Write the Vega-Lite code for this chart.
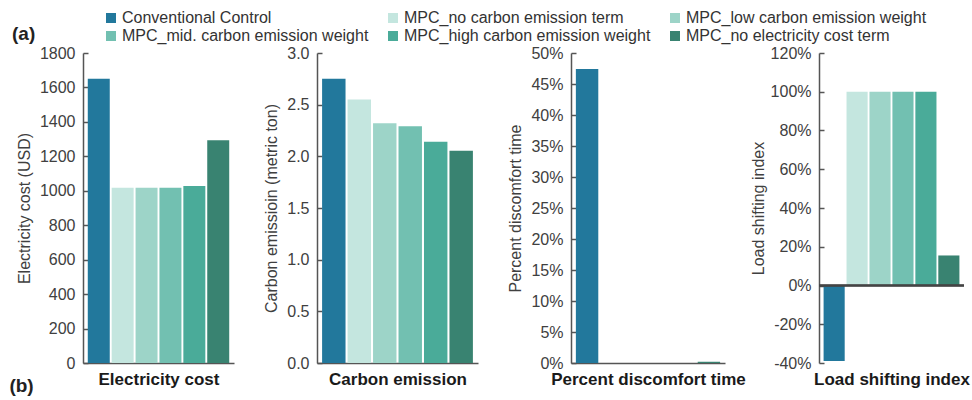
{
  "$schema": "https://vega.github.io/schema/vega-lite/v6.json",
  "padding": {"left": 9, "top": 10, "right": 2, "bottom": 4},
  "background": "white",
  "spacing": 4,
  "config": {
    "font": "Liberation Sans",
    "locale": {"number": {"decimal": ".", "thousands": ",", "grouping": [3], "currency": ["$", ""], "minus": "-"}},
    "view": {"stroke": null},
    "axis": {
      "labelFont": "Liberation Sans", "titleFont": "Liberation Sans",
      "labelFontSize": 16, "titleFontSize": 16,
      "labelColor": "#404040", "titleColor": "#404040", "titleFontWeight": "normal",
      "domainColor": "#555555", "tickColor": "#555555", "domainWidth": 1.5, "tickWidth": 1.5,
      "tickSize": -5, "labelPadding": 13, "titlePadding": 7, "grid": false, "labelOverlap": false, "zindex": 1
    },
    "axisX": {"labels": false, "ticks": false, "titleFontWeight": "bold", "titleFontSize": 17, "titleColor": "#1a1a1a", "titlePadding": 8},
    "legend": {
      "orient": "none", "legendX": -71, "legendY": -43, "direction": "horizontal", "columns": 3,
      "symbolType": "square", "symbolSize": 100, "symbolStrokeWidth": 0,
      "labelFont": "Liberation Sans", "labelFontSize": 16, "labelColor": "#333333", "labelOffset": 3, "labelLimit": 400,
      "columnPadding": 16, "rowPadding": 2,
      "titleOrient": "left", "titleFont": "Liberation Sans", "titleFontSize": 19, "titleFontWeight": "bold", "titleColor": "#222222",
      "titlePadding": 67, "titleAnchor": "end", "titleBaseline": "bottom"
    }
  },
  "datasets": {
    "d": [
      {"metric": "Electricity cost", "scenario": "Conventional Control", "value": 1650},
      {"metric": "Electricity cost", "scenario": "MPC_no carbon emission term", "value": 1017},
      {"metric": "Electricity cost", "scenario": "MPC_low carbon emission weight", "value": 1017},
      {"metric": "Electricity cost", "scenario": "MPC_mid. carbon emission weight", "value": 1017},
      {"metric": "Electricity cost", "scenario": "MPC_high carbon emission weight", "value": 1028},
      {"metric": "Electricity cost", "scenario": "MPC_no electricity cost term", "value": 1293},
      {"metric": "Carbon emission", "scenario": "Conventional Control", "value": 2.75},
      {"metric": "Carbon emission", "scenario": "MPC_no carbon emission term", "value": 2.55},
      {"metric": "Carbon emission", "scenario": "MPC_low carbon emission weight", "value": 2.32},
      {"metric": "Carbon emission", "scenario": "MPC_mid. carbon emission weight", "value": 2.29},
      {"metric": "Carbon emission", "scenario": "MPC_high carbon emission weight", "value": 2.14},
      {"metric": "Carbon emission", "scenario": "MPC_no electricity cost term", "value": 2.055},
      {"metric": "Percent discomfort time", "scenario": "Conventional Control", "value": 0.474},
      {"metric": "Percent discomfort time", "scenario": "MPC_no carbon emission term", "value": 0},
      {"metric": "Percent discomfort time", "scenario": "MPC_low carbon emission weight", "value": 0},
      {"metric": "Percent discomfort time", "scenario": "MPC_mid. carbon emission weight", "value": 0},
      {"metric": "Percent discomfort time", "scenario": "MPC_high carbon emission weight", "value": 0},
      {"metric": "Percent discomfort time", "scenario": "MPC_no electricity cost term", "value": 0.002},
      {"metric": "Load shifting index", "scenario": "Conventional Control", "value": -0.39},
      {"metric": "Load shifting index", "scenario": "MPC_no carbon emission term", "value": 1.0},
      {"metric": "Load shifting index", "scenario": "MPC_low carbon emission weight", "value": 1.0},
      {"metric": "Load shifting index", "scenario": "MPC_mid. carbon emission weight", "value": 1.0},
      {"metric": "Load shifting index", "scenario": "MPC_high carbon emission weight", "value": 1.0},
      {"metric": "Load shifting index", "scenario": "MPC_no electricity cost term", "value": 0.155}
    ]
  },
  "hconcat": [
    {
      "spacing": 29,
      "hconcat": [
        {
          "width": 151, "height": 310,
          "data": {"name": "d"},
          "transform": [{"filter": "datum.metric === 'Electricity cost'"}],
          "title": {"text": "(b)", "orient": "bottom", "anchor": "start", "fontSize": 19, "fontWeight": "bold", "color": "#222222", "font": "Liberation Sans", "dx": -7, "dy": -10, "offset": 0},
          "mark": {"type": "bar"},
          "encoding": {
            "x": {"field": "scenario", "type": "nominal", "sort": null,
                  "scale": {"paddingInner": 0.08, "paddingOuter": 0.2},
                  "axis": {"title": "Electricity cost"}},
            "y": {"field": "value", "type": "quantitative",
                  "scale": {"domain": [0, 1800], "nice": false},
                  "axis": {"title": "Electricity cost (USD)", "values": [0, 200, 400, 600, 800, 1000, 1200, 1400, 1600, 1800], "format": "d"}},
            "color": {"field": "scenario", "type": "nominal",
                      "scale": {"domain": ["Conventional Control", "MPC_no carbon emission term", "MPC_low carbon emission weight", "MPC_mid. carbon emission weight", "MPC_high carbon emission weight", "MPC_no electricity cost term"],
                                "range": ["#22789c", "#c4e6df", "#9dd4c8", "#72c0b1", "#4aab99", "#398371"]},
                      "legend": {"title": "(a)"}}
          }
        },
        {
          "width": 161, "height": 310,
          "data": {"name": "d"},
          "transform": [{"filter": "datum.metric === 'Carbon emission'"}],
          "mark": {"type": "bar"},
          "encoding": {
            "x": {"field": "scenario", "type": "nominal", "sort": null,
                  "scale": {"paddingInner": 0.08, "paddingOuter": 0.2},
                  "axis": {"title": "Carbon emission"}},
            "y": {"field": "value", "type": "quantitative",
                  "scale": {"domain": [0, 3], "nice": false},
                  "axis": {"title": "Carbon emissioin (metric ton)", "values": [0, 0.5, 1, 1.5, 2, 2.5, 3], "format": ".1f"}},
            "color": {"field": "scenario", "type": "nominal", "legend": {"title": "(a)"}}
          }
        },
        {
          "width": 154, "height": 310,
          "data": {"name": "d"},
          "transform": [{"filter": "datum.metric === 'Percent discomfort time'"}],
          "mark": {"type": "bar"},
          "encoding": {
            "x": {"field": "scenario", "type": "nominal", "sort": null,
                  "scale": {"paddingInner": 0.08, "paddingOuter": 0.2},
                  "axis": {"title": "Percent discomfort time"}},
            "y": {"field": "value", "type": "quantitative",
                  "scale": {"domain": [0, 0.5], "nice": false},
                  "axis": {"title": "Percent discomfort time", "values": [0, 0.05, 0.1, 0.15, 0.2, 0.25, 0.3, 0.35, 0.4, 0.45, 0.5], "format": ".0%"}},
            "color": {"field": "scenario", "type": "nominal", "legend": {"title": "(a)"}}
          }
        }
      ]
    },
    {
      "width": 145, "height": 310,
      "data": {"name": "d"},
      "transform": [{"filter": "datum.metric === 'Load shifting index'"}],
      "layer": [
        {
          "mark": {"type": "bar"},
          "encoding": {
            "x": {"field": "scenario", "type": "nominal", "sort": null,
                  "scale": {"paddingInner": 0.08, "paddingOuter": 0.2},
                  "axis": {"title": "Load shifting index", "domain": false}},
            "y": {"field": "value", "type": "quantitative",
                  "scale": {"domain": [-0.4, 1.2], "nice": false},
                  "axis": {"title": "Load shifting index", "values": [-0.4, -0.2, 0, 0.2, 0.4, 0.6, 0.8, 1.0, 1.2], "format": ".0%", "labelOverlap": false, "titlePadding": 4}},
            "color": {"field": "scenario", "type": "nominal", "legend": {"title": "(a)"}}
          }
        },
        {
          "mark": {"type": "rule", "color": "#444444", "strokeWidth": 1.5},
          "encoding": {"y": {"datum": 0, "type": "quantitative",
                  "axis": {"title": "Load shifting index", "values": [-0.4, -0.2, 0, 0.2, 0.4, 0.6, 0.8, 1.0, 1.2], "format": ".0%", "labelOverlap": false, "titlePadding": 4}}}
        }
      ]
    }
  ]
}
